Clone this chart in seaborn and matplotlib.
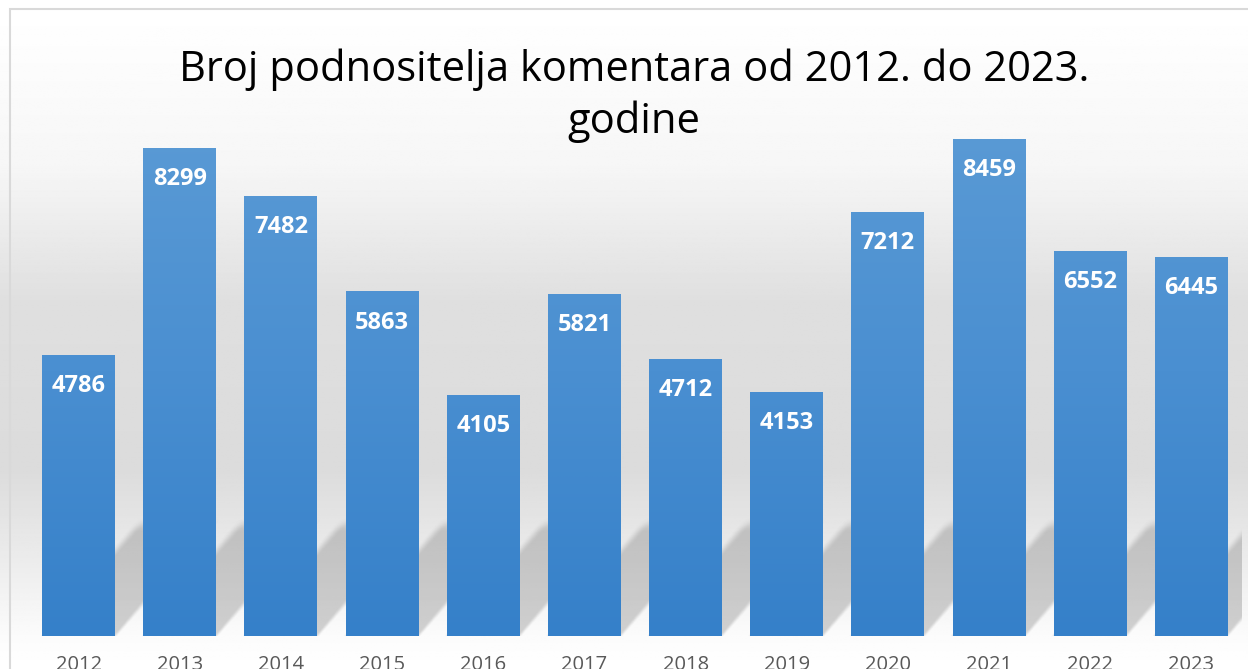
import numpy as np
import pandas as pd
import matplotlib
matplotlib.use("Agg")
import matplotlib.pyplot as plt
import seaborn as sns
from matplotlib.patches import Rectangle
from matplotlib.colors import LinearSegmentedColormap

years = ["2012", "2013", "2014", "2015", "2016", "2017", "2018", "2019", "2020", "2021", "2022", "2023"]
values = [4786, 8299, 7482, 5863, 4105, 5821, 4712, 4153, 7212, 8459, 6552, 6445]
title = "Broj podnositelja komentara od 2012. do 2023.\ngodine"

sns.set_theme(style="white")
plt.rcParams["font.family"] = ["Open Sans", "DejaVu Sans"]

W, H = 1248, 669
fig = plt.figure(figsize=(W / 100, H / 100), dpi=100)

# background gradient (figure level)
bg = fig.add_axes([0, 0, 1, 1], zorder=-10)
bg.set_axis_off()
ys = np.linspace(0, 1, 400)  # 0 = top
stops_y = [0.0, 0.05, 0.25, 0.45, 0.70, 0.85, 0.95, 1.0]
stops_v = [1.0, 0.995, 0.965, 0.875, 0.86, 0.93, 0.985, 1.0]
vals = np.interp(ys, stops_y, stops_v)
grad = np.repeat(vals[:, None], 4, axis=1)
bg.imshow(grad, cmap="gray", vmin=0, vmax=1, aspect="auto", extent=[0, 1, 0, 1])
bg.set_xlim(0, 1)
bg.set_ylim(0, 1)
# frame border (left & top visible)
bg.add_patch(Rectangle((10 / W, -0.1), 1.2, 1 - 9 / H + 0.1, fill=False,
                       edgecolor="#d9d9d9", linewidth=1.5, transform=bg.transAxes))

ax_left, ax_right = 28 / W, 1242 / W
ax_bottom, ax_top = (H - 636) / H, (H - 107) / H
ax = fig.add_axes([ax_left, ax_bottom, ax_right - ax_left, ax_top - ax_bottom])
ax.patch.set_alpha(0)

df = pd.DataFrame({"year": years, "value": values})
sns.barplot(data=df, x="year", y="value", ax=ax, color="#5b9bd5", width=0.72,
            saturation=1, zorder=3)

# soft sheared shadows behind bars (decorative)
n = len(years)
half = 0.36
sh_top = 1900.0
sh_dx = 0.95
gx = np.linspace(-0.5, n - 0.5, 1400)
gy = np.linspace(0, sh_top * 1.15, 200)
X, Y = np.meshgrid(gx, gy)
S = Y / sh_top


def smooth(t):
    t = np.clip(t, 0, 1)
    return t * t * (3 - 2 * t)


mask = np.zeros_like(X)
for i in range(n):
    u = X - i - sh_dx * S
    soft = 0.05 + 0.08 * S
    m = smooth((u + half) / soft + 0.5) * smooth((half - u) / soft + 0.5)
    m *= smooth((1.0 - S) / 0.15 + 0.5)
    mask = np.maximum(mask, m)
rgba = np.zeros(X.shape + (4,))
rgba[..., :3] = 0.35
rgba[..., 3] = 0.27 * mask
ax.imshow(rgba, extent=[gx[0], gx[-1], gy[0], gy[-1]], origin="lower",
          aspect="auto", zorder=1, interpolation="bilinear")

# gradient fill of bars
cmap = LinearSegmentedColormap.from_list("bar", ["#3580c9", "#4a8fd1", "#5b9bd5"])
gimg = np.linspace(0, 1, 256)[:, None]
for p in list(ax.patches):
    if isinstance(p, Rectangle) and p.get_height() > 0:
        x, w = p.get_x(), p.get_width()
        im = ax.imshow(gimg, cmap=cmap, aspect="auto", extent=[x, x + w, 0, 9000],
                       origin="lower", zorder=3.5, vmin=0, vmax=1)
        im.set_clip_path(p)
        p.set_edgecolor("none")
ax.set_xlim(-0.5, n - 0.5)
ax.set_ylim(0, 9000)

for i, v in enumerate(values):
    ax.annotate(f"{v}", (i, v), xytext=(0, -22.5), textcoords="offset points",
                ha="center", va="center", color="white", fontsize=17,
                fontweight="bold", zorder=5)

ax.set_xlabel("")
ax.set_ylabel("")
ax.set_yticks([])
ax.tick_params(axis="x", length=0, pad=14, labelsize=14.5, labelcolor="#595959")
for s in ax.spines.values():
    s.set_visible(False)

fig.text(634 / W, 1 - 96 / H, title, ha="center", va="center", fontsize=30,
         color="black", linespacing=1.3)

fig.savefig("out.png", dpi=100)
